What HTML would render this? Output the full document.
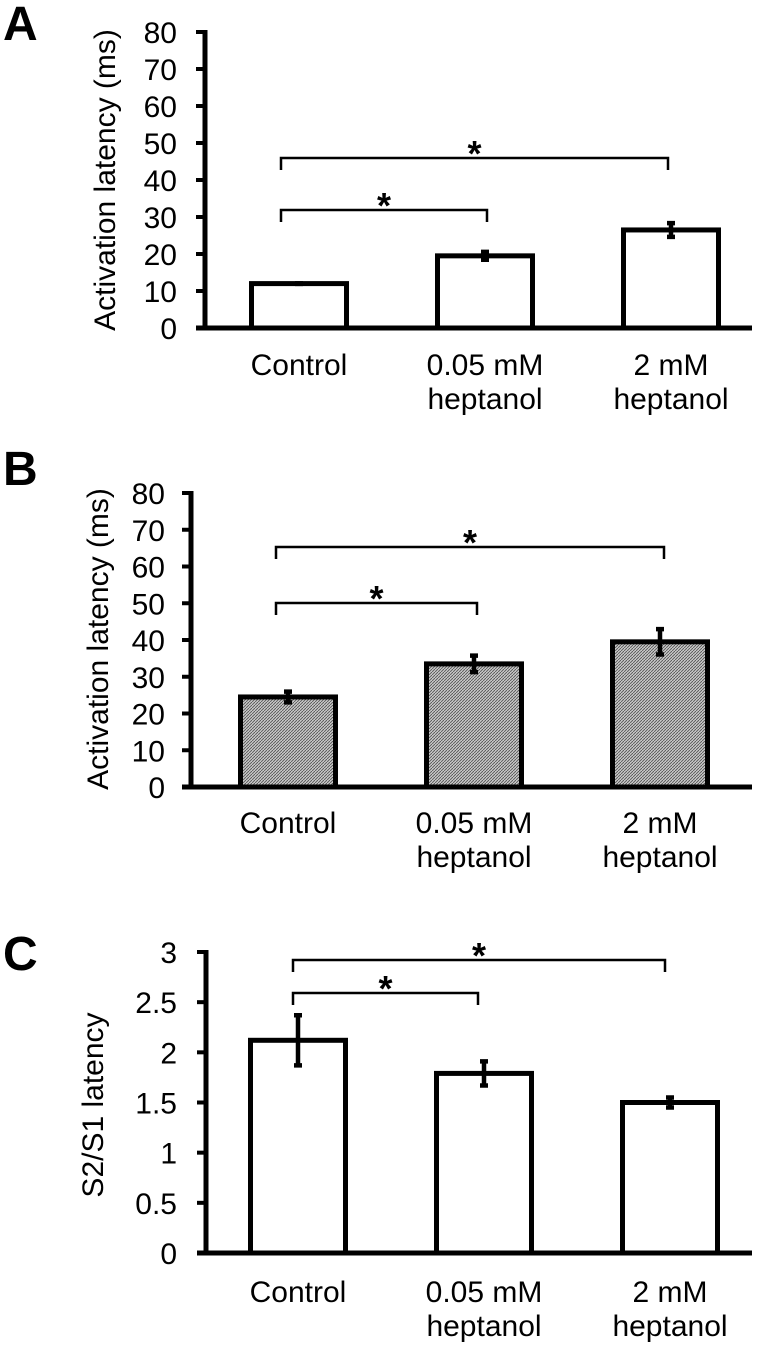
<!DOCTYPE html>
<html><head><meta charset="utf-8"><style>
html,body{margin:0;padding:0;background:#fff;}
svg{display:block;font-family:"Liberation Sans",Arial,sans-serif;}
</style></head><body>
<svg id="fig" width="766" height="1347" viewBox="0 0 766 1347">
<defs>
<pattern id="hatch" width="3" height="3" patternUnits="userSpaceOnUse">
<rect width="3" height="3" fill="#c8c8c8"/>
<path d="M0,3 L3,0" stroke="#555" stroke-width="0.9"/>
</pattern>
</defs>
</svg>
<script>
const categories = ["Control", "0.05 mM|heptanol", "2 mM|heptanol"];
const valuesA = [12, 19.5, 26.5];
const errorsA = [0.6, 1.6, 2.4];
const valuesB = [24.5, 33.5, 39.5];
const errorsB = [2, 2.8, 4];
const valuesC = [2.12, 1.79, 1.5];
const errorsC = [0.27, 0.14, 0.07];
const ticksAB = ["0","10","20","30","40","50","60","70","80"];
const ticksC = ["0","0.5","1","1.5","2","2.5","3"];

const NS = "http://www.w3.org/2000/svg";
const svg = document.getElementById("fig");
function mk(tag, attrs, parent, text){
  const e = document.createElementNS(NS, tag);
  for (const k in attrs) e.setAttribute(k, attrs[k]);
  if (text !== undefined) e.textContent = text;
  (parent || svg).appendChild(e);
  return e;
}

function panel(cfg){
  const g = mk("g", {});
  
  
  const yMax = cfg.yMax;
  const y = v => cfg.y0 - (v / yMax) * (cfg.y0 - cfg.yTop);
  const lt = mk("text", {x: cfg.letterX, y: cfg.letterY, "font-size": 48, "font-weight": "bold"}, g, cfg.letter);
  
  
  const tx = cfg.titleX, ty = cfg.titleY;
  const yt = mk("text", {x: tx, y: ty, "font-size": 30, "text-anchor": "middle", transform: `rotate(-90 ${tx} ${ty})`}, g, cfg.title);
  
  
  cfg.ticks.forEach((t) => {
    const v = parseFloat(t);
    const yy = y(v);
    const tk = mk("line", {x1: cfg.axisX - 9, x2: cfg.axisX, y1: yy, y2: yy, stroke: "#000", "stroke-width": 4}, g);
    
    
    const tl = mk("text", {x: cfg.tickRight, y: yy + 11, "font-size": 30, "text-anchor": "end"}, g, t);
    
    
  });
  cfg.values.forEach((v, i) => {
    const cx = cfg.centers[i], w = cfg.barW;
    const b = mk("rect", {x: cx - w/2, y: y(v), width: w, height: cfg.y0 - y(v), fill: cfg.fill, stroke: "#000", "stroke-width": 5}, g);
    
    
    const e = cfg.errors[i];
    const eb = mk("path", {d: `M${cx},${y(v+e)} V${y(v-e)} M${cx-4},${y(v+e)+2} H${cx+4} M${cx-4},${y(v-e)-2} H${cx+4}`, stroke: "#000", "stroke-width": 4.5, fill: "none"}, g);
    
    
    const parts = categories[i].split("|");
    parts.forEach((p, j) => {
      const cl = mk("text", {x: cx, y: cfg.labelY + j * 34, "font-size": 30, "text-anchor": "middle"}, g, p);
      
      
    });
  });
  const ax = mk("path", {d: `M${cfg.axisX},${cfg.yTop - 2} V${cfg.y0} M${cfg.axisX - 9},${cfg.y0} H${cfg.axisEnd}`, stroke: "#000", "stroke-width": 5, fill: "none"}, g);
  
  
  cfg.brackets.forEach((br) => {
    const p = mk("path", {d: `M${br.x1},${br.y + 12} V${br.y} H${br.x2} V${br.y + 12}`, stroke: "#000", "stroke-width": 2.5, fill: "none"}, g);
    
    
    const s = mk("text", {x: (br.x1 + br.x2) / 2, y: br.y + 8, "font-size": 36, "font-weight": "bold", "text-anchor": "middle"}, g, "*");
    
    
  });
}

panel({letter: "A", letterX: 3, letterY: 40, title: "Activation latency (ms)", titleX: 115, titleY: 180,
  axisX: 205, yTop: 32, y0: 328, yMax: 80, ticks: ticksAB, tickRight: 177, axisEnd: 752,
  values: valuesA, errors: errorsA, centers: [299, 485, 671], barW: 95, fill: "#fff", labelY: 375,
  brackets: [{x1: 281, x2: 487, y: 210}, {x1: 281, x2: 668, y: 158}]});

panel({letter: "B", letterX: 3, letterY: 485, title: "Activation latency (ms)", titleX: 108, titleY: 639,
  axisX: 191, yTop: 493, y0: 787, yMax: 80, ticks: ticksAB, tickRight: 165, axisEnd: 752,
  values: valuesB, errors: errorsB, centers: [288, 474, 660], barW: 95, fill: "url(#hatch)", labelY: 833,
  brackets: [{x1: 276, x2: 477, y: 603}, {x1: 276, x2: 664, y: 547}]});

panel({letter: "C", letterX: 3, letterY: 970, title: "S2/S1 latency", titleX: 103, titleY: 1105,
  axisX: 206, yTop: 952, y0: 1253, yMax: 3, ticks: ticksC, tickRight: 177, axisEnd: 752,
  values: valuesC, errors: errorsC, centers: [298, 484, 670], barW: 95, fill: "#fff", labelY: 1302,
  brackets: [{x1: 293, x2: 478, y: 993}, {x1: 293, x2: 665, y: 960}]});
</script>
</body></html>
